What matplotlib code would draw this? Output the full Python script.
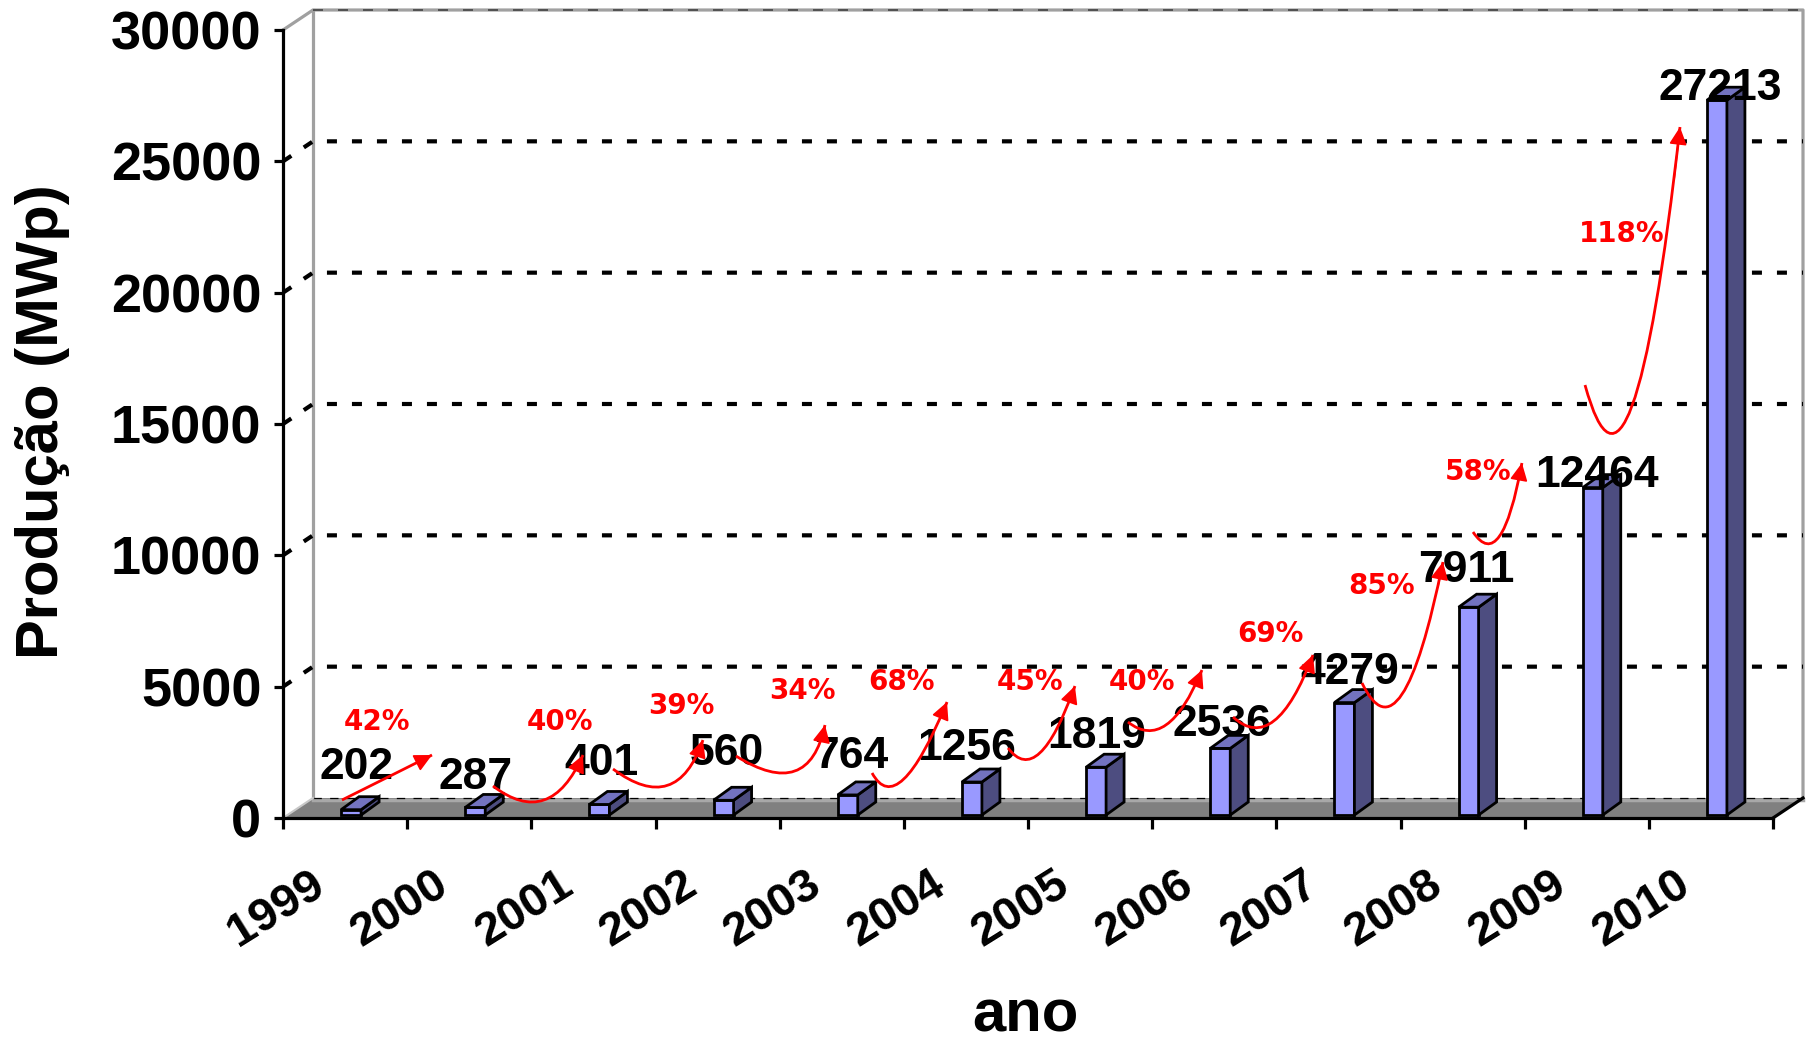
import matplotlib
matplotlib.use("Agg")
import matplotlib.pyplot as plt
from matplotlib.patches import Polygon, PathPatch
from matplotlib.path import Path
from matplotlib.transforms import ScaledTranslation
import numpy as np

# Produção anual (MWp)
anos = ['1999', '2000', '2001', '2002', '2003', '2004',
        '2005', '2006', '2007', '2008', '2009', '2010']
producao = [202, 287, 401, 560, 764, 1256, 1819, 2536, 4279, 7911, 12464, 27213]
crescimento = ['42%', '40%', '39%', '34%', '68%', '45%', '40%', '69%', '85%', '58%', '118%']
y_ticks = [0, 5000, 10000, 15000, 20000, 25000, 30000]

# deslocamento dos rótulos de valor (px)
rot_dx = [11, 6, 8, 9, 9, 1, 7, 8, 11, 4, 10, 9]
rot_dy = [45, 33, 44, 50, 41, 37, 34, 27, 33, 40, 15, 15]

# posição dos textos de crescimento (x em categorias, y em MWp)
pct_pos = [(0.757, 3650), (2.231, 3650), (3.205, 4260), (4.180, 4830), (4.985, 5180),
           (6.016, 5180), (6.918, 5180), (7.949, 7000), (8.851, 8830), (9.624, 13170),
           (10.784, 22230)]

# setas: início, vale, ponta
setas = [
    ((0.475, 685), (0.838, 1541), (1.200, 2398)),
    ((1.691, 1218), (1.989, 609), (2.416, 2398)),
    ((2.658, 1865), (2.980, 1180), (3.382, 2969)),
    ((3.648, 2360), (4.003, 1713), (4.365, 3540)),
    ((4.744, 1713), (4.913, 1218), (5.348, 4416)),
    ((5.839, 2665), (6.016, 2246), (6.378, 5025)),
    ((6.805, 3655), (7.023, 3350), (7.401, 5634)),
    ((7.651, 3845), (7.884, 3464), (8.295, 6205)),
    ((8.690, 5139), (8.915, 4264), (9.342, 9746)),
    ((9.584, 10888), (9.737, 10469), (9.978, 13515)),
    ((10.486, 16484), (10.751, 14733), (11.251, 26306)),
]

plt.rcParams['font.family'] = ['Liberation Sans', 'DejaVu Sans']
plt.rcParams['lines.scale_dashes'] = False

W, H = 1810, 1041
X0, X1, Y0, Y1 = 283, 1773, 818, 30
fig = plt.figure(figsize=(W / 100, H / 100), dpi=100)
ax = fig.add_axes([X0 / W, 1 - Y0 / H, (X1 - X0) / W, (Y0 - Y1) / H])
ax.set_xlim(0, 12)
ax.set_ylim(0, 30000)

kx = (X1 - X0) / 12.0
ky = (Y0 - Y1) / 30000.0


def px_x(p):
    return p / kx


def px_y(p):
    return p / ky


wdx, wdy = px_x(30), px_y(20)
cinza = '#A0A0A0'
lw = 2.3

# paredes
ax.plot([0, wdx, 12 + wdx, 12 + wdx], [30000, 30000 + wdy, 30000 + wdy, wdy],
        color=cinza, lw=lw, clip_on=False, zorder=1)
ax.plot([wdx, wdx], [wdy, 30000 + wdy], color=cinza, lw=lw, clip_on=False, zorder=1)
ax.plot([wdx, 12 + wdx], [30000 + wdy] * 2, color='#505050', lw=1.4,
        dashes=(7.2, 10.8), clip_on=False, zorder=1.1)

# linhas de grade
for v in y_ticks[1:-1]:
    ax.plot([0, wdx, 12 + wdx], [v, v + wdy, v + wdy], color='k', lw=3.0,
            dashes=(7.2, 10.8), clip_on=False, zorder=1)

# piso
ax.add_patch(Polygon([(0, 0), (12, 0), (12 + wdx, wdy), (wdx, wdy)], closed=True,
                     fc='#808080', ec='none', clip_on=False, zorder=1.2))
ax.plot([wdx, 12 + wdx], [wdy - px_y(2)] * 2, color='#A8A8A8', lw=2.5,
        clip_on=False, zorder=1.3)
ax.plot([wdx, 12 + wdx], [wdy] * 2, color='k', lw=0.9, dashes=(6, 6),
        clip_on=False, zorder=1.4)
ax.plot([0, wdx], [0, wdy], color='#C8C8C8', lw=1.5, clip_on=False, zorder=1.4)
ax.plot([12, 12 + wdx], [0, wdy], color='k', lw=lw, clip_on=False, zorder=1.4)

# barras 3D
bdx, bdy = px_x(18), px_y(13)
base = px_y(3)
for i, v in enumerate(producao):
    cx = i + 0.5
    x_esq = cx + px_x(-4)
    x_dir = x_esq + px_x(20)
    topo = base + v
    faces = [
        ([(x_esq, base), (x_dir, base), (x_dir, topo), (x_esq, topo)], '#9999FF'),
        ([(x_dir, base), (x_dir + bdx, base + bdy), (x_dir + bdx, topo + bdy), (x_dir, topo)], '#4D4D80'),
        ([(x_esq, topo), (x_dir, topo), (x_dir + bdx, topo + bdy), (x_esq + bdx, topo + bdy)], '#7373C0'),
    ]
    for pts, cor in faces:
        ax.add_patch(Polygon(pts, closed=True, fc=cor, ec='k', lw=2.0,
                             joinstyle='miter', clip_on=False, zorder=3))
    ax.annotate(str(v), xy=(cx, v), xytext=(rot_dx[i], rot_dy[i]),
                textcoords='offset pixels', ha='center', va='center',
                fontsize=32, fontweight='bold', color='k', zorder=5)

# setas de crescimento
t = 0.35
for (s, d, p), txt, pos in zip(setas, crescimento, pct_pos):
    s, d, p = np.array(s), np.array(d), np.array(p)
    c = (d - (1 - t) ** 2 * s - t ** 2 * p) / (2 * t * (1 - t))
    curva = Path([s, c, p], [Path.MOVETO, Path.CURVE3, Path.CURVE3])
    ax.add_patch(PathPatch(curva, fc='none', ec='red', lw=2.0, clip_on=False, zorder=6))
    ax.annotate('', xy=p, xytext=p - 0.12 * (p - c),
                arrowprops=dict(arrowstyle='-|>', color='red', lw=1.2,
                                mutation_scale=27, shrinkA=0, shrinkB=0), zorder=6)
    ax.text(pos[0], pos[1], txt, color='red', fontsize=20, fontweight='bold',
            family='DejaVu Sans', ha='center', va='center', zorder=6)

# eixos
for lado in ['top', 'right']:
    ax.spines[lado].set_visible(False)
for lado in ['left', 'bottom']:
    ax.spines[lado].set_linewidth(lw)
    ax.spines[lado].set_zorder(4)
ax.set_facecolor('none')

ax.set_yticks(y_ticks)
ax.set_yticklabels([str(v) for v in y_ticks], fontsize=39, fontweight='bold')
ax.tick_params(axis='y', direction='out', length=6.5, width=lw, pad=9)

ax.set_xticks(range(13))
ax.set_xticklabels(anos + [''], rotation=32, ha='center', fontsize=34, fontweight='bold')
ax.tick_params(axis='x', direction='out', length=8, width=lw, pad=24)
for lbl in ax.get_xticklabels():
    lbl.set_transform(lbl.get_transform() + ScaledTranslation(-0.07, 0, fig.dpi_scale_trans))

fig.text(42 / W, 1 - 422 / H, 'Produção (MWp)', rotation=90, fontsize=43,
         fontweight='bold', ha='center', va='center')
fig.text(1025 / W, 1 - 1016 / H, 'ano', fontsize=43, fontweight='bold',
         ha='center', va='center')

fig.savefig('out.png', dpi=100)
